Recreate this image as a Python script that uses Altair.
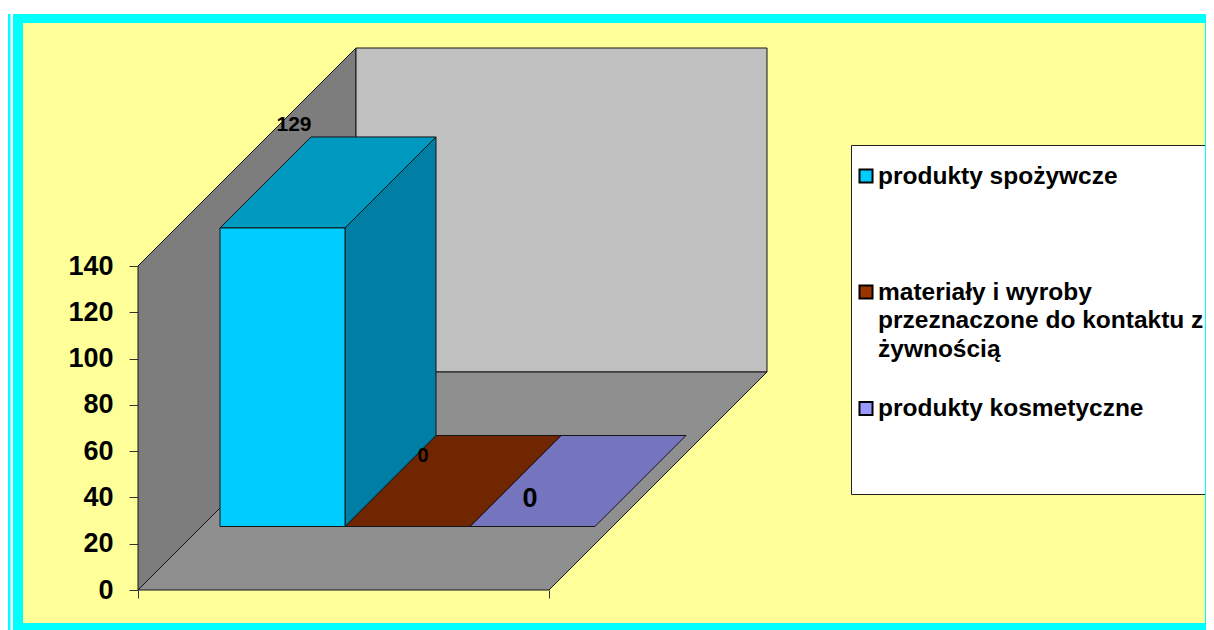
import altair as alt
import pandas as pd

# --- data
categories = ["produkty spożywcze", "materiały i wyroby\nprzeznaczone do kontaktu z\nżywnością", "produkty kosmetyczne"]
values = [129, 0, 0]
legend_colors = ["#00ccff", "#993300", "#9999ff"]
top_colors = ["#009ac0", "#702600", "#7575bf"]
side_colors = ["#007ea3", "#5a1f00", "#5d5d99"]
front_colors = ["#00ccff", "#993300", "#9999ff"]
y_ticks = [0, 20, 40, 60, 80, 100, 120, 140]
x_ticks = [138, 549]
label_sizes = [21, 20, 27]
label_lifts = [(294, 125), (423, 456), (530, 499)]

# --- page geometry (pixels in the picture)
W, H = 1198, 622
OX, OY = 8, 8
K = 324 / 140          # px per value unit on the front plane
BASE = 590             # py of value 0
DEPTH = 218            # wall depth
LEFT, RIGHT = 138, 549
BAR0, BARW = 156.5, 125
D1, D2 = 63.5, 154.5
STROKE = "#141414"

xs = alt.Scale(domain=[OX, OX + W], nice=False, zero=False)
ys = alt.Scale(domain=[(BASE - (OY + H)) / K, (BASE - OY) / K], nice=False, zero=False)

y_axis = alt.Axis(values=y_ticks, orient="left", offset=-(LEFT - OX), domain=False, grid=False, title=None,
                  tickSize=9, tickColor="#333333", labelFont="Liberation Sans", labelFontWeight="bold",
                  labelFontSize=27, labelColor="#000000", labelPadding=16, zindex=1)
x_axis = alt.Axis(values=x_ticks, orient="bottom", offset=-(OY + H - BASE), domain=False, grid=False, title=None,
                  tickSize=8, tickColor="#333333", labels=False, zindex=1)


def hface(xa, xb, d0, d1, v0, v1, color):
    """Face with horizontal top and bottom edges; d = depth in px, v = value."""
    df = pd.DataFrame({
        "y": [v0 + d0 / K, v1 + d1 / K],
        "xa": [xa + d0, xa + d1],
        "xb": [xb + d0, xb + d1],
    })
    return alt.Chart(df).mark_area(orient="horizontal", fill=color, stroke=STROKE, strokeWidth=1, opacity=1).encode(
        x=alt.X("xa:Q", scale=xs, axis=x_axis),
        x2="xb:Q",
        y=alt.Y("y:Q", scale=ys, axis=y_axis),
    )


def vface(x0, d0, d1, v0, v1, color):
    """Face with vertical left and right edges, running in depth."""
    df = pd.DataFrame({
        "x": [x0 + d0, x0 + d1],
        "ya": [v0 + d0 / K, v0 + d1 / K],
        "yb": [v1 + d0 / K, v1 + d1 / K],
    })
    return alt.Chart(df).mark_area(orient="vertical", fill=color, stroke=STROKE, strokeWidth=1, opacity=1).encode(
        x=alt.X("x:Q", scale=xs, axis=x_axis),
        y=alt.Y("ya:Q", scale=ys, axis=y_axis),
        y2="yb:Q",
    )


def box(x0, x1, y0, y1, color, **kw):
    one = pd.DataFrame({"a": [0]})
    return alt.Chart(one).mark_rect(color=color, **kw).encode(
        x=alt.value(x0 - OX), x2=alt.value(x1 - OX),
        y=alt.value(y0 - OY), y2=alt.value(y1 - OY),
    )


layers = [
    box(8, 1206, 14, 630, "#00ffff"),
    box(10.5, 13, 14, 630, "#ffffff"),
    box(23, 1206, 23, 623, "#ffff99"),
]

# walls and floor
layers.append(vface(LEFT, 0, DEPTH, 0, 140, "#7d7d7d"))
layers.append(hface(LEFT + DEPTH, RIGHT + DEPTH, 0, 0, DEPTH / K, 140 + DEPTH / K, "#c0c0c0"))
layers.append(hface(LEFT, RIGHT, 0, DEPTH, 0, 0, "#8f8f8f"))

# bars, back to front in drawing order
for i in reversed(range(len(values))):
    v = values[i]
    xa, xb = BAR0 + i * BARW, BAR0 + (i + 1) * BARW
    if v > 0:
        layers.append(vface(xb, D1, D2, 0, v, side_colors[i]))
    layers.append(hface(xa, xb, D1, D2, v, v, top_colors[i]))
    if v > 0:
        layers.append(hface(xa + D1, xb + D1, 0, 0, D1 / K, v + D1 / K, front_colors[i]))

# value labels
for i, v in enumerate(values):
    px, py = label_lifts[i]
    df = pd.DataFrame({"x": [px], "y": [(BASE - py) / K], "t": [str(v)]})
    layers.append(alt.Chart(df).mark_text(font="Liberation Sans", fontWeight="bold", fontSize=label_sizes[i],
                                          color="#000000", align="center", baseline="middle").encode(
        x=alt.X("x:Q", scale=xs, axis=x_axis), y=alt.Y("y:Q", scale=ys, axis=y_axis), text="t:N"))

# legend box
layers.append(box(851.5, 1216, 145.5, 494.5, "#ffffff", stroke="#222222", strokeWidth=1))
legend_base = [183.5, 299.5, 416]
for i, name in enumerate(categories):
    df = pd.DataFrame({"x": [866], "name": [name], "color": [legend_colors[i]]})
    layers.append(alt.Chart(df).mark_square(size=170, opacity=1, stroke="#000000", strokeWidth=2).encode(
        x=alt.X("x:Q", scale=xs, axis=x_axis),
        y=alt.value(legend_base[i] - 7.5 - OY),
        fill=alt.Fill("color:N", scale=None),
    ))
    df2 = pd.DataFrame({"x": [878], "name": [name]})
    layers.append(alt.Chart(df2).mark_text(font="Liberation Sans", fontWeight="bold", fontSize=24.5, color="#000000",
                                           align="left", baseline="alphabetic", lineBreak="\n", lineHeight=28.5).encode(
        x=alt.X("x:Q", scale=xs, axis=x_axis),
        y=alt.value(legend_base[i] - OY),
        text="name:N",
    ))
layers.append(box(1205, 1206, 14, 630, "#00ffff"))

chart = alt.layer(*layers).properties(
    width=W, height=H, padding=0, background="#ffffff",
    autosize=alt.AutoSizeParams(type="none"),
).configure_view(stroke=None)

chart.save("out.html", embed_options={"renderer": "svg", "actions": False})
